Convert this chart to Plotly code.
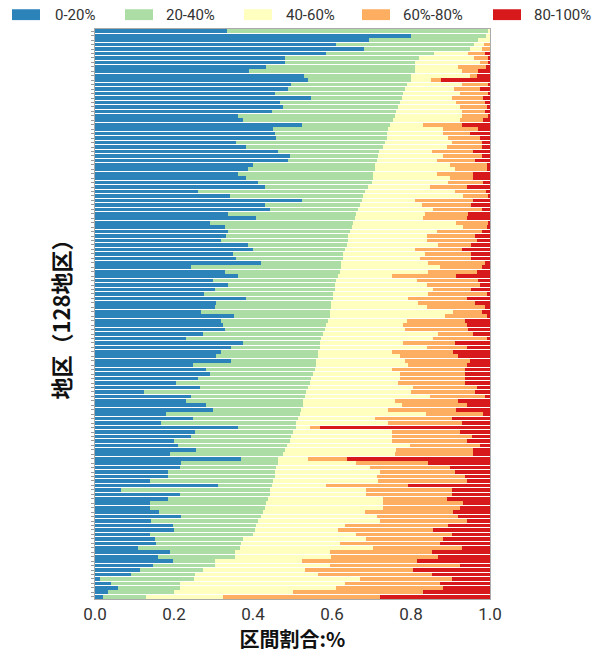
import numpy as np
import plotly.graph_objects as go

# Cumulative boundaries (end of each band), per district, top to bottom
cum_0_20 = [.333,.80,.694,.61,.68,.585,.48,.48,.434,.39,.53,.54,.497,.489,.455,.548,.468,.476,.447,.362,
            .375,.523,.451,.455,.459,.358,.383,.463,.493,.489,.40,.388,.362,.383,.413,.43,.261,.341,.523,.43,
            .442,.336,.408,.29,.328,.336,.332,.32,.387,.40,.35,.358,.421,.244,.328,.362,.299,.336,.303,.277,
            .383,.307,.303,.269,.353,.32,.324,.328,.273,.231,.375,.345,.32,.307,.345,.248,.282,.29,.261,.206,
            .265,.125,.244,.231,.282,.299,.18,.248,.168,.362,.252,.244,.201,.21,.256,.189,.37,.218,.214,.185,
            .185,.138,.311,.066,.214,.185,.138,.138,.163,.218,.142,.197,.201,.138,.151,.155,.109,.189,.159,.197,
            .146,.113,.092,.012,.041,.058,.032,.02]
cum_20_40 = [.996,.99,.97,.96,.95,.857,.82,.81,.81,.81,.80,.80,.789,.785,.78,.776,.772,.768,.763,.76,
             .755,.747,.742,.738,.738,.733,.73,.72,.717,.713,.708,.708,.704,.704,.70,.692,.683,.679,.675,.67,
             .666,.662,.658,.654,.65,.645,.641,.641,.637,.632,.628,.628,.624,.624,.62,.616,.611,.607,.607,.603,
             .603,.598,.598,.594,.594,.59,.586,.582,.577,.573,.569,.569,.565,.565,.56,.56,.556,.552,.548,.544,
             .539,.535,.531,.527,.527,.522,.518,.514,.51,.51,.501,.497,.493,.485,.48,.476,.463,.463,.459,.455,
             .455,.451,.447,.442,.442,.438,.434,.43,.425,.421,.413,.408,.404,.40,.375,.37,.366,.354,.354,.303,
             .303,.273,.252,.25,.214,.214,.201,.13]
cum_40_60 = [1.0,1.0,1.0,.985,.98,.945,.96,.975,.92,.93,.95,.85,.93,.91,.925,.903,.915,.924,.93,.93,
             .924,.831,.882,.882,.894,.903,.89,.852,.882,.865,.898,.911,.865,.898,.894,.848,.911,.932,.81,.827,
             .856,.835,.831,.915,.932,.865,.84,.84,.869,.81,.835,.822,.844,.873,.844,.751,.814,.84,.856,.844,
             .793,.818,.84,.907,.886,.789,.78,.784,.869,.856,.78,.84,.751,.772,.784,.793,.751,.772,.772,.768,
             .806,.801,.848,.759,.776,.742,.839,.708,.742,.545,.751,.751,.751,.797,.763,.759,.54,.662,.696,.721,
             .713,.717,.586,.687,.687,.73,.73,.73,.683,.713,.721,.632,.615,.662,.687,.62,.704,.594,.598,.523,
             .594,.531,.565,.67,.632,.611,.501,.324]
cum_60_80 = [1.0,1.0,1.0,1.0,1.0,.987,.995,.995,.99,.97,.967,.875,.995,.975,.995,.983,.987,.992,.987,.995,
             .983,.928,.97,.95,.975,.979,.979,.958,.979,.962,.992,.992,.958,.958,.983,.941,.991,.996,.958,.953,
             .979,.945,.941,.996,.992,.979,.962,.966,.953,.928,.953,.953,.987,.979,.966,.915,.97,.975,.953,.992,
             .941,.962,.987,.979,.992,.937,.941,.945,.958,.992,.911,.941,.907,.92,.949,.941,.937,.937,.937,.937,
             .966,.962,.987,.92,.941,.915,.983,.903,.928,.57,.924,.954,.941,.975,.958,.958,.637,.844,.898,.911,
             .937,.941,.793,.903,.903,.89,.932,.924,.907,.92,.941,.894,.856,.903,.882,.873,.928,.852,.869,.814,
             .924,.806,.852,.905,.873,.882,.831,.721]

categories = ["0-20%", "20-40%", "40-60%", "60%-80%", "80-100%"]
colors = ["#2b83ba", "#abdda4", "#ffffbf", "#fdae61", "#d7191c"]

cum = np.vstack([np.zeros(128), cum_0_20, cum_20_40, cum_40_60, cum_60_80, np.ones(128)])
shares = np.clip(np.diff(cum, axis=0), 0, None)
districts = np.arange(128)

fig = go.Figure()
for k, name in enumerate(categories):
    fig.add_trace(go.Bar(x=shares[k], y=districts, orientation="h", name=name,
                         marker=dict(color=colors[k], line=dict(width=0)), showlegend=False))

# Custom wide-swatch legend above the plot (pixel positions converted to paper coords)
L, R, T, B = 95, 490, 29, 606
def px(xp): return (xp - L) / (R - L)
def py(yp): return (B - yp) / (B - T)
sw_x = [12, 125, 244, 362, 493]
tx_x = [53, 164, 284, 401, 532]
shapes = []
annotations = []
for k, name in enumerate(categories):
    shapes.append(dict(type="rect", xref="paper", yref="paper",
                       x0=px(sw_x[k]), x1=px(sw_x[k] + 28), y0=py(20), y1=py(9),
                       fillcolor=colors[k], line=dict(width=0)))
    annotations.append(dict(text=name, xref="paper", yref="paper", x=px(tx_x[k]), y=py(14.5),
                            xanchor="left", yanchor="middle", showarrow=False,
                            font=dict(size=15, color="#333", family="Roboto, Arial")))

fig.update_layout(
    width=599, height=656,
    margin=dict(l=L, r=599 - R, t=T, b=656 - B),
    barmode="stack", bargap=0.18,
    plot_bgcolor="white", paper_bgcolor="white",
    shapes=shapes, annotations=annotations,
    xaxis=dict(range=[0, 1], tickvals=[0, 0.2, 0.4, 0.6, 0.8, 1.0],
               ticktext=["0.0", "0.2", "0.4", "0.6", "0.8", "1.0"],
               showgrid=False, zeroline=False, ticks="",
               showline=True, mirror=True, linecolor="#aaa", linewidth=1,
               tickfont=dict(size=17, color="#333", family="Roboto, Arial"),
               title=dict(text="<b>区間割合:%</b>", standoff=6,
                          font=dict(size=20, color="#111", family="Noto Sans CJK JP"))),
    yaxis=dict(range=[127.5, -0.5], tickmode="linear", tick0=0, dtick=1,
               ticks="outside", ticklen=3, tickcolor="#999", tickwidth=1,
               showticklabels=False, showgrid=False, zeroline=False,
               showline=True, mirror=True, linecolor="#aaa", linewidth=1,
               title=dict(text="<b>地区（128地区）</b>", standoff=14,
                          font=dict(size=22, color="#111", family="Noto Sans CJK JP"))),
)

fig.write_html("out.html")
